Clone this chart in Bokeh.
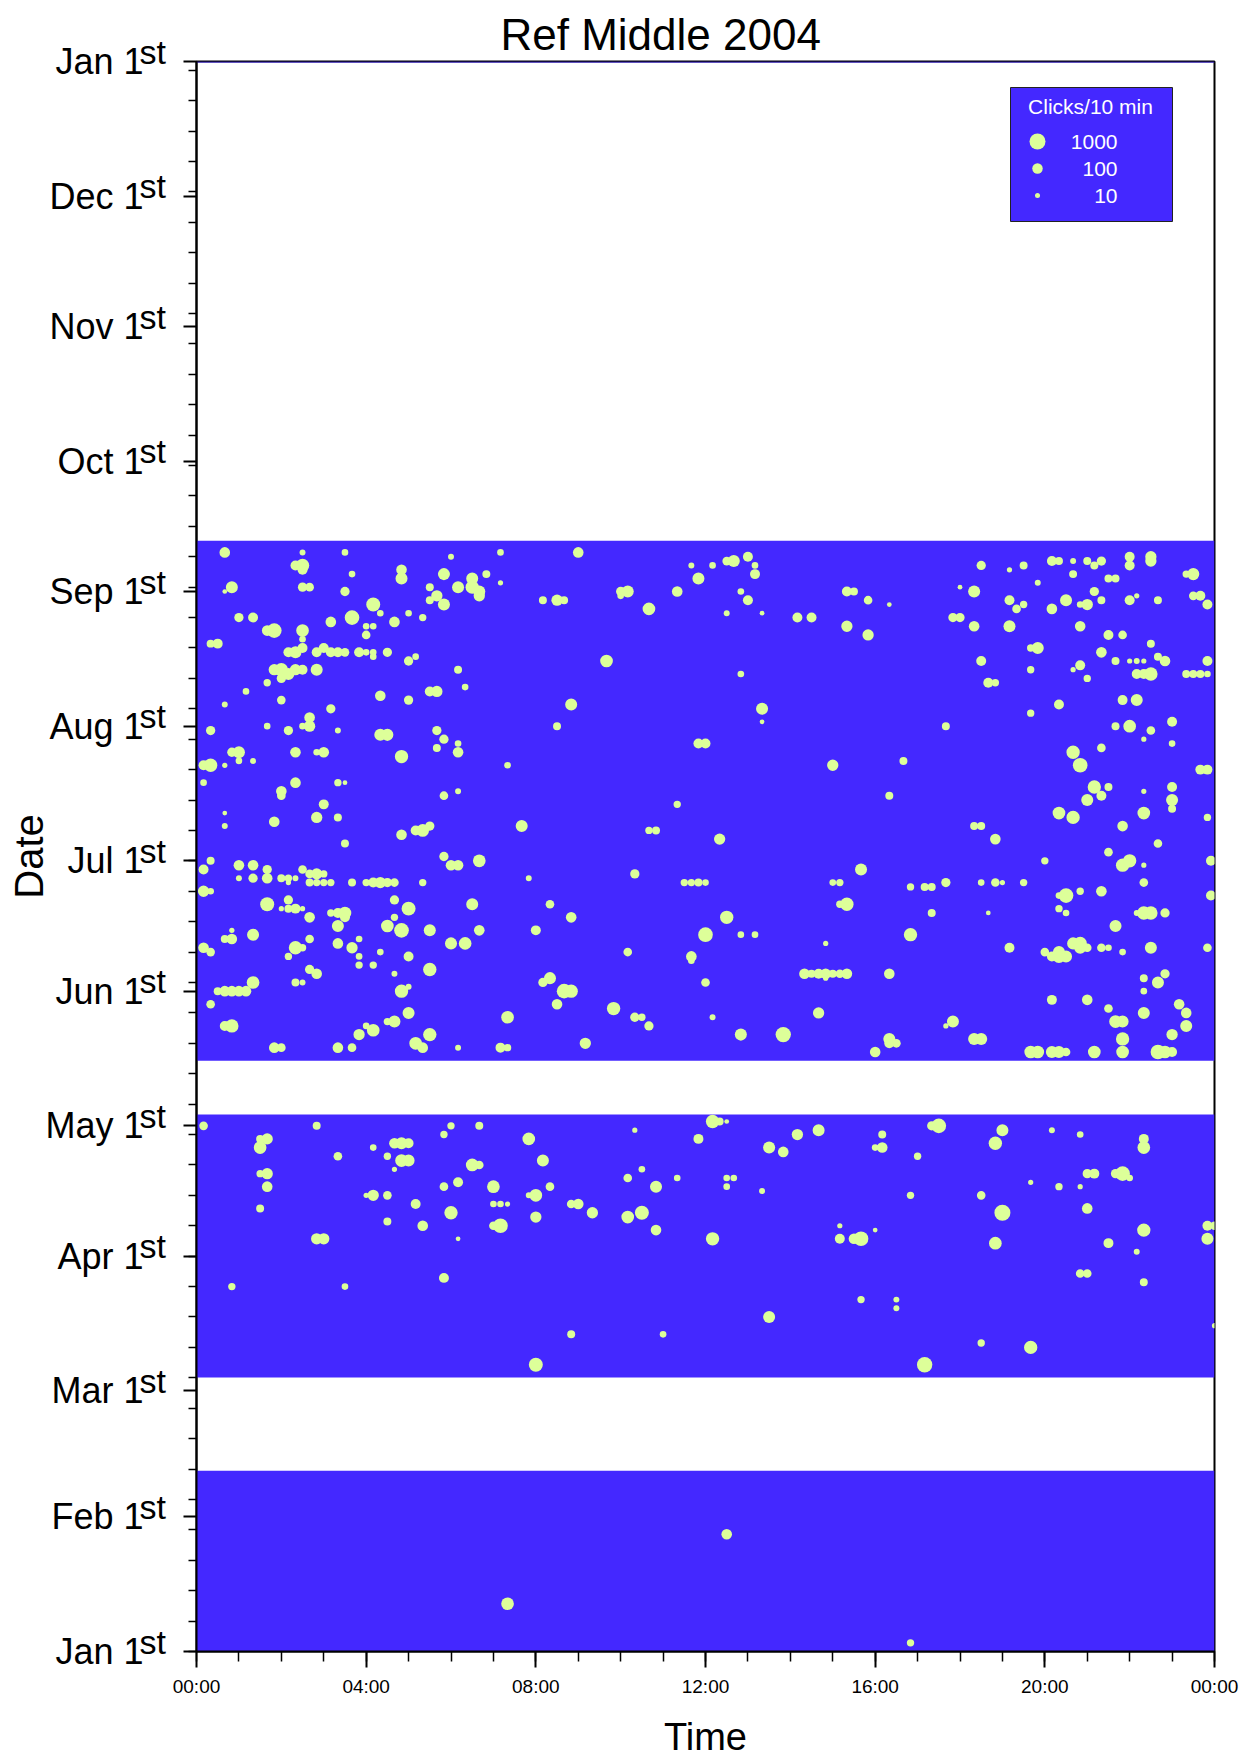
import numpy as np
from bokeh.plotting import figure
from bokeh.layouts import row
from bokeh.models import ColumnDataSource, FixedTicker, LabelSet, Label, Range1d
from bokeh.core.properties import value
from bokeh.embed import file_html
from bokeh.resources import INLINE

# ---------------- data ----------------
# recording effort (day of year 2004, 0 = Jan 1st)
effort_start = [0.0, 63.1, 136.0, 365.75]
effort_end = [41.6, 123.6, 255.7, 366.0]

month_days = [0, 31, 60, 91, 121, 152, 182, 213, 244, 274, 305, 335, 366]
month_names = ["Jan", "Feb", "Mar", "Apr", "May", "Jun", "Jul", "Aug", "Sep",
               "Oct", "Nov", "Dec", "Jan"]
hour_ticks = [0, 240, 480, 720, 960, 1200, 1440]
hour_labels = ["00:00", "04:00", "08:00", "12:00", "16:00", "20:00", "00:00"]

legend_clicks = [1000, 100, 10]

# detections: (minute of day, day of year, clicks per 10 min)
deploy1 = [(440, 11, 250), (750, 27, 105), (1010, 2, 27)]

deploy2 = [
    (10, 121, 46), (170, 121, 35), (360, 121, 27), (350, 119, 27), (400, 121, 35),
    (470, 118, 250), (620, 120, 11), (710, 118, 80), (100, 118, 140), (90, 118, 35),
    (90, 116, 250), (90, 110, 27), (100, 110, 140), (100, 107, 105), (90, 102, 35),
    (250, 116, 20), (200, 114, 46), (280, 117, 105), (290, 117, 190), (300, 117, 80),
    (270, 114, 27), (290, 113, 250), (300, 113, 190), (280, 111, 11), (390, 112, 250),
    (400, 112, 46), (490, 113, 190), (350, 107, 46), (370, 108, 80), (420, 107, 250),
    (500, 107, 46), (480, 105, 250), (470, 105, 15), (240, 105, 11), (250, 105, 140),
    (270, 105, 46), (310, 103, 80), (420, 103, 20), (430, 103, 20), (440, 103, 11),
    (530, 103, 46), (540, 103, 105), (560, 101, 140), (360, 101, 330), (480, 100, 140),
    (610, 109, 46), (630, 111, 20), (650, 107, 190), (680, 109, 20), (610, 100, 250),
    (630, 101, 430), (650, 97, 105), (270, 99, 35), (320, 98, 105), (430, 98, 570),
    (420, 98, 46), (370, 95, 9), (170, 95, 140), (180, 95, 140), (50, 84, 27),
    (210, 84, 20), (350, 86, 80), (530, 73, 35), (660, 73, 20), (480, 66, 430),
    (730, 122, 330), (740, 122, 35), (750, 122, 9), (810, 116, 190), (830, 115, 105),
    (850, 119, 140), (880, 120, 190), (750, 109, 20), (760, 109, 20), (750, 107, 20),
    (800, 106, 15), (970, 119, 35), (960, 116, 20), (970, 116, 105), (1020, 114, 27),
    (1050, 121, 570), (1040, 121, 60), (1140, 120, 190), (1130, 117, 330), (1210, 120, 15),
    (1250, 119, 20), (1340, 118, 80), (1340, 116, 250), (1260, 110, 60), (1270, 110, 80),
    (1300, 110, 60), (1310, 110, 570), (1320, 109, 20), (1180, 108, 11), (1220, 107, 27),
    (1250, 107, 11), (1010, 105, 27), (1110, 105, 46), (1140, 101, 1000), (1260, 102, 105),
    (730, 95, 330), (910, 98, 11), (910, 95, 80), (930, 95, 105), (940, 95, 570),
    (960, 97, 9), (1130, 94, 250), (1340, 97, 330), (1290, 94, 80), (1330, 92, 15),
    (1430, 98, 80), (1440, 98, 46), (1430, 95, 190), (1250, 87, 46), (1260, 87, 46),
    (1340, 85, 35), (940, 81, 27), (990, 81, 15), (990, 79, 15), (810, 77, 190),
    (1110, 71, 27), (1180, 70, 330), (1030, 66, 760), (1440, 75, 11),
]

deploy3_night_a = [
    (40, 253, 105), (150, 253, 15), (210, 253, 20), (360, 252, 15), (430, 253, 20),
    (540, 253, 105), (700, 250, 15), (730, 250, 20), (140, 250, 80), (150, 250, 330),
    (150, 249, 80), (290, 249, 105), (290, 247, 190), (220, 248, 20), (350, 248, 190),
    (410, 248, 35), (390, 247, 190), (390, 245, 330), (400, 244, 190), (400, 243, 140),
    (430, 246, 11), (710, 247, 190), (50, 245, 190), (40, 244, 9), (150, 245, 60),
    (160, 245, 46), (210, 244, 60), (330, 245, 35), (370, 245, 190), (340, 243, 140),
    (330, 242, 35), (350, 241, 190), (490, 242, 35), (510, 242, 140), (520, 242, 35),
    (600, 244, 60), (610, 244, 190), (600, 243, 20), (680, 244, 105), (640, 240, 250),
    (250, 241, 430), (260, 239, 20), (300, 239, 20), (320, 238, 27), (220, 238, 570),
    (60, 238, 60), (80, 238, 80), (190, 237, 105), (280, 237, 105), (240, 236, 20),
    (250, 236, 20), (240, 234, 46), (100, 235, 105), (110, 235, 570), (150, 235, 250),
    (150, 233, 20), (20, 232, 35), (30, 232, 80), (130, 230, 80), (140, 230, 190),
    (150, 231, 80), (170, 230, 80), (180, 231, 80), (190, 230, 80), (200, 230, 80),
    (210, 230, 46), (230, 230, 80), (240, 230, 20), (250, 230, 20), (250, 229, 20),
    (270, 230, 60), (300, 228, 60), (310, 229, 20), (580, 228, 250), (110, 226, 140),
    (120, 226, 330), (130, 225, 190), (140, 226, 140), (150, 226, 80), (120, 224, 60),
    (100, 223, 27), (170, 226, 190), (370, 226, 35), (70, 221, 20), (330, 221, 80),
    (340, 221, 140), (380, 222, 20), (260, 220, 105), (300, 219, 60), (40, 218, 15),
    (120, 219, 46), (530, 218, 190), (190, 217, 60), (160, 215, 105), (160, 213, 140),
    (150, 213, 20), (100, 213, 20), (20, 212, 60), (130, 212, 60), (200, 212, 15),
    (260, 211, 190), (270, 211, 190), (340, 212, 60), (350, 210, 60), (340, 208, 35),
    (370, 209, 20), (370, 207, 105), (510, 213, 35), (710, 209, 80), (720, 209, 80),
    (60, 207, 190), (50, 207, 60), (60, 205, 20), (80, 205, 15), (140, 207, 105),
    (170, 207, 20), (180, 207, 105), (290, 206, 330), (10, 204, 80), (20, 204, 330),
    (40, 204, 11), (440, 204, 20), (10, 200, 20), (140, 200, 105), (200, 200, 27),
    (210, 200, 9), (120, 198, 105), (120, 197, 46), (350, 197, 46), (370, 198, 15),
]

deploy3_day_a = [
    (750, 251, 46), (760, 251, 190), (780, 252, 80), (790, 250, 20), (790, 248, 80),
    (770, 244, 20), (780, 242, 80), (750, 239, 15), (800, 239, 9), (850, 238, 80),
    (870, 238, 80), (920, 244, 80), (930, 244, 35), (950, 242, 46), (980, 241, 9),
    (920, 236, 140), (950, 234, 140), (1110, 250, 60), (1150, 249, 11), (1170, 250, 35),
    (1210, 251, 80), (1220, 251, 35), (1240, 251, 15), (1260, 251, 35), (1270, 250, 35),
    (1280, 251, 60), (1320, 252, 80), (1320, 250, 80), (1350, 252, 140), (1350, 251, 140),
    (1240, 248, 35), (1290, 247, 35), (1300, 247, 35), (1190, 246, 15), (1080, 245, 9),
    (1100, 244, 190), (1150, 242, 80), (1160, 240, 46), (1170, 241, 27), (1210, 240, 105),
    (1230, 242, 190), (1250, 241, 20), (1260, 241, 140), (1270, 244, 60), (1280, 242, 35),
    (1320, 242, 80), (1330, 243, 11), (1360, 242, 35), (1410, 248, 190), (1400, 248, 27),
    (1410, 243, 46), (1420, 243, 80), (1430, 241, 80), (1070, 238, 60), (1080, 238, 60),
    (1100, 236, 105), (1150, 236, 190), (1250, 236, 105), (1290, 234, 80), (1310, 234, 46),
    (1350, 232, 35), (1190, 231, 190), (1180, 231, 27), (1280, 230, 105), (1110, 228, 80),
    (1180, 226, 27), (1240, 226, 11), (1250, 227, 80), (1260, 224, 27), (1300, 228, 35),
    (1320, 228, 11), (1330, 228, 15), (1340, 228, 11), (1360, 229, 35), (1370, 228, 105),
    (1430, 228, 80), (1330, 225, 80), (1340, 225, 80), (1350, 225, 330), (1400, 225, 35),
    (1410, 225, 35), (1420, 225, 35), (1430, 225, 20), (1120, 223, 80), (1130, 223, 27),
    (770, 225, 20), (800, 217, 190), (800, 214, 9), (1220, 218, 80), (1180, 216, 27),
    (1310, 219, 80), (1330, 219, 190), (1300, 213, 35), (1320, 213, 250), (1350, 212, 46),
    (1340, 210, 11), (1380, 214, 80), (1380, 209, 20), (1060, 213, 35), (1240, 207, 330),
    (1250, 204, 570), (1280, 208, 46), (900, 204, 140), (1000, 205, 35), (1420, 203, 80),
    (1430, 203, 80), (1270, 199, 330), (1290, 199, 35), (1280, 197, 80), (1340, 198, 11),
    (1380, 199, 80), (980, 197, 35),
]

deploy3_night_b = [
    (180, 195, 80), (40, 193, 9), (40, 190, 15), (110, 191, 105), (170, 192, 140),
    (200, 192, 35), (680, 195, 27), (210, 186, 35), (290, 188, 105), (310, 189, 80),
    (320, 189, 250), (330, 190, 60), (460, 190, 190), (640, 189, 27), (650, 189, 35),
    (20, 182, 35), (10, 180, 80), (60, 181, 105), (80, 181, 105), (100, 180, 60),
    (100, 178, 105), (60, 178, 15), (80, 178, 60), (120, 178, 35), (130, 178, 27),
    (140, 178, 15), (130, 177, 11), (150, 180, 46), (160, 179, 46), (170, 179, 140),
    (180, 179, 27), (160, 177, 35), (170, 177, 27), (180, 177, 27), (190, 177, 27),
    (220, 177, 35), (240, 177, 27), (250, 177, 80), (260, 177, 140), (270, 177, 60),
    (280, 177, 46), (320, 177, 27), (350, 183, 60), (360, 181, 105), (370, 181, 105),
    (400, 182, 250), (470, 178, 15), (620, 179, 60), (690, 177, 27), (700, 177, 27),
    (710, 177, 35), (720, 177, 20), (10, 175, 140), (20, 175, 20), (100, 172, 430),
    (130, 173, 60), (120, 171, 11), (130, 171, 35), (140, 171, 80), (150, 171, 11),
    (160, 169, 105), (190, 170, 27), (200, 170, 80), (210, 170, 250), (210, 169, 80),
    (200, 167, 190), (280, 173, 60), (300, 171, 430), (280, 169, 27), (270, 167, 250),
    (290, 166, 570), (330, 166, 190), (390, 172, 190), (400, 166, 105), (500, 172, 46),
    (530, 169, 105), (480, 166, 80), (720, 165, 570), (40, 164, 35), (50, 164, 105),
    (50, 166, 11), (80, 165, 190), (10, 162, 105), (20, 161, 46), (140, 162, 330),
    (150, 162, 27), (130, 160, 27), (160, 164, 46), (200, 163, 105), (220, 162, 140),
    (230, 164, 20), (230, 160, 20), (230, 158, 27), (250, 158, 27), (260, 161, 20),
    (300, 160, 80), (360, 163, 190), (380, 163, 250), (610, 161, 46), (700, 160, 105),
    (700, 159, 20), (160, 157, 60), (170, 156, 105), (330, 157, 330), (280, 156, 15),
    (720, 154, 46), (80, 154, 250), (30, 152, 35), (40, 152, 105), (50, 152, 105),
    (60, 152, 105), (70, 152, 105), (20, 149, 46), (140, 154, 35), (150, 154, 15),
    (290, 152, 330), (300, 153, 15), (490, 154, 60), (500, 155, 190), (520, 152, 570),
    (530, 152, 330), (510, 149, 105), (300, 147, 190), (590, 148, 330), (620, 146, 60),
    (630, 146, 27), (640, 144, 60), (730, 146, 15), (40, 144, 80), (50, 144, 330),
    (270, 145, 27), (280, 145, 190), (240, 144, 20), (250, 143, 250), (230, 142, 140),
    (330, 142, 330), (310, 140, 250), (320, 139, 105), (110, 139, 105), (120, 139, 46),
    (200, 139, 105), (220, 139, 46), (370, 139, 15), (430, 139, 80), (440, 139, 27),
    (440, 146, 250), (550, 140, 140),
]

deploy3_day_b = [
    (1260, 196, 190), (1380, 196, 190), (1380, 194, 35), (1220, 193, 250), (1240, 192, 330),
    (1340, 193, 250), (1310, 190, 105), (1430, 192, 27), (740, 187, 140), (1100, 190, 35),
    (1110, 190, 35), (1130, 187, 105), (1360, 186, 46), (1290, 184, 46), (1200, 182, 27),
    (1310, 181, 330), (1320, 182, 330), (1340, 181, 11), (1435, 182, 80), (940, 180, 190),
    (900, 177, 20), (910, 177, 27), (1010, 176, 27), (1030, 176, 35), (1040, 176, 35),
    (1060, 177, 60), (1110, 177, 20), (1130, 177, 46), (1140, 177, 11), (1170, 177, 27),
    (1230, 174, 570), (1220, 174, 20), (1250, 175, 27), (1280, 175, 105), (1340, 177, 46),
    (1435, 174, 80), (920, 172, 330), (910, 172, 27), (750, 169, 330), (1040, 170, 35),
    (1120, 170, 9), (1220, 171, 27), (1230, 170, 20), (1340, 170, 330), (1350, 170, 330),
    (1330, 170, 15), (1370, 170, 60), (1300, 167, 190), (770, 165, 20), (790, 165, 20),
    (890, 163, 11), (1010, 165, 330), (1150, 162, 80), (1200, 161, 46), (1210, 160, 80),
    (1220, 160, 330), (1230, 160, 190), (1220, 161, 190), (1240, 163, 190), (1250, 163, 330),
    (1250, 162, 190), (1260, 162, 46), (1280, 162, 46), (1290, 162, 20), (1310, 161, 20),
    (1350, 162, 190), (1430, 162, 46), (860, 156, 105), (870, 156, 35), (880, 156, 80),
    (890, 156, 105), (890, 155, 11), (900, 156, 35), (910, 156, 46), (920, 156, 105),
    (980, 156, 105), (1340, 155, 35), (1370, 156, 60), (1360, 154, 190), (1340, 152, 20),
    (1210, 150, 80), (1260, 150, 105), (1290, 148, 46), (1340, 147, 190), (1390, 149, 105),
    (1400, 147, 105), (1400, 144, 190), (1300, 145, 250), (1310, 145, 190), (1310, 141, 330),
    (1380, 142, 140), (880, 147, 140), (770, 142, 190), (830, 142, 760), (1060, 144, 11),
    (1070, 145, 190), (980, 141, 190), (980, 140, 80), (990, 140, 46), (960, 138, 105),
    (1100, 141, 190), (1110, 141, 190), (1180, 138, 250), (1190, 138, 250), (1210, 138, 190),
    (1220, 138, 190), (1230, 138, 46), (1270, 138, 250), (1310, 138, 250), (1360, 138, 570),
    (1370, 138, 250), (1380, 138, 80),
]

# ---------------- styling / layout ----------------
BLUE = "#4428FF"
DOT = "#DDFF99"
FONT = "Liberation Sans"

PAGE_W, PAGE_H = 1253, 1757
LEFT_W = 170                      # width of the label strip (page px)
FRAME_L, FRAME_T, FRAME_W, FRAME_H = 196, 61, 1018, 1590   # page px
X0, X1, Y0, Y1 = 0, 1440, 0, 366


def px_to_min(px):
    return X0 + (px - FRAME_L) * (X1 - X0) / FRAME_W


def py_to_day(py):
    return Y0 + (FRAME_T + FRAME_H - py) * (Y1 - Y0) / FRAME_H


def dot_size(c):
    return 5.5 * np.log10(np.asarray(c, dtype=float)) - 0.5


# ---- left strip with the month labels and the "Date" title ----
lab = figure(width=LEFT_W, height=PAGE_H, frame_width=LEFT_W, frame_height=PAGE_H,
             x_range=Range1d(0, LEFT_W), y_range=Range1d(py_to_day(PAGE_H), py_to_day(0)),
             output_backend="svg", toolbar_location=None,
             x_axis_location=None, y_axis_location=None,
             min_border=0, outline_line_color=None, frame_align=False)
lab.xgrid.visible = False
lab.ygrid.visible = False
msrc = ColumnDataSource(dict(y=month_days, t=[f"{m} 1" for m in month_names],
                             st=["st"] * len(month_days)))
lab.text(x=143, y="y", text="t", source=msrc, text_align="right", text_baseline="middle",
         text_font=value(FONT), text_font_size=value("36px"), text_color="black")
lab.text(x=139, y="y", text="st", source=msrc, y_offset=-10, text_align="left",
         text_baseline="middle", text_font=value(FONT), text_font_size=value("34px"),
         text_color="black")
lab.text(x=[28], y=[(Y0 + Y1) / 2], text=["Date"], angle=np.pi / 2, text_align="center",
         text_baseline="middle", text_font=value(FONT), text_font_size=value("40px"),
         text_color="black")

# ---- main plot ----
p = figure(frame_width=FRAME_W, frame_height=FRAME_H,
           x_range=Range1d(X0, X1), y_range=Range1d(Y0, Y1),
           output_backend="svg", toolbar_location=None, frame_align=False,
           min_border_left=FRAME_L - LEFT_W, min_border_top=FRAME_T,
           min_border_right=PAGE_W - FRAME_L - FRAME_W,
           min_border_bottom=PAGE_H - FRAME_T - FRAME_H)
p.xgrid.visible = False
p.ygrid.visible = False
p.outline_line_color = "black"
p.outline_line_width = 2
p.background_fill_color = "white"

p.title.text = "Ref Middle 2004"
p.title.align = "left"
p.title.offset = 304
p.title.standoff = 5
p.title.text_font = FONT
p.title.text_font_size = "44px"
p.title.text_font_style = "normal"
p.title.text_color = "black"

# effort blocks
p.quad(left=X0, right=X1, bottom=effort_start, top=effort_end,
       fill_color=BLUE, line_color=None)

# detections
all_pts = deploy1 + deploy2 + deploy3_night_a + deploy3_day_a + deploy3_night_b + deploy3_day_b
src = ColumnDataSource(dict(x=[t[0] for t in all_pts], y=[t[1] for t in all_pts],
                            s=dot_size([t[2] for t in all_pts])))
p.scatter(x="x", y="y", size="s", source=src, fill_color=DOT, line_color=None)

# axes
xa = p.xaxis[0]
xa.ticker = FixedTicker(ticks=hour_ticks, minor_ticks=list(range(0, 1441, 60)))
xa.major_label_overrides = {t: l for t, l in zip(hour_ticks, hour_labels)}
xa.major_label_text_font = FONT
xa.major_label_text_font_size = "19px"
xa.major_label_text_color = "black"
xa.major_label_standoff = 8
xa.axis_line_width = 2
xa.major_tick_out = 16
xa.major_tick_in = 0
xa.minor_tick_out = 10
xa.minor_tick_in = 0
xa.major_tick_line_width = 2
xa.minor_tick_line_width = 1.5
xa.axis_label = "Time"
xa.axis_label_text_font = FONT
xa.axis_label_text_font_size = "38px"
xa.axis_label_text_font_style = "normal"
xa.axis_label_text_color = "black"
xa.axis_label_standoff = 16

ya = p.yaxis[0]
ya.ticker = FixedTicker(ticks=month_days, minor_ticks=list(range(0, 367, 7)))
ya.major_label_text_font_size = "0px"
ya.major_label_text_color = None
ya.major_label_standoff = 0
ya.axis_line_width = 2
ya.major_tick_out = 13
ya.major_tick_in = 0
ya.minor_tick_out = 8
ya.minor_tick_in = 0
ya.major_tick_line_width = 2
ya.minor_tick_line_width = 1.5

# legend (inside the frame)
p.quad(left=px_to_min(1010), right=px_to_min(1172), top=py_to_day(87), bottom=py_to_day(221),
       fill_color=BLUE, line_color="#222222", line_width=1)
p.add_layout(Label(x=px_to_min(1090), y=py_to_day(106), text="Clicks/10 min",
                   text_align="center", text_baseline="middle", text_font=FONT,
                   text_font_size="21px", text_color="white"))
leg_y = [py_to_day(141), py_to_day(168), py_to_day(195)]
lsrc = ColumnDataSource(dict(x=[px_to_min(1037)] * 3, y=leg_y, s=dot_size(legend_clicks),
                             tx=[px_to_min(1117)] * 3, t=[str(c) for c in legend_clicks]))
p.scatter(x="x", y="y", size="s", source=lsrc, fill_color=DOT, line_color=None)
p.add_layout(LabelSet(x="tx", y="y", text="t", source=lsrc, text_align="right",
                      text_baseline="middle", text_font=value(FONT),
                      text_font_size=value("21px"), text_color="white"))

layout = row(lab, p, spacing=0)
open("out.html", "w").write(file_html(layout, INLINE))
